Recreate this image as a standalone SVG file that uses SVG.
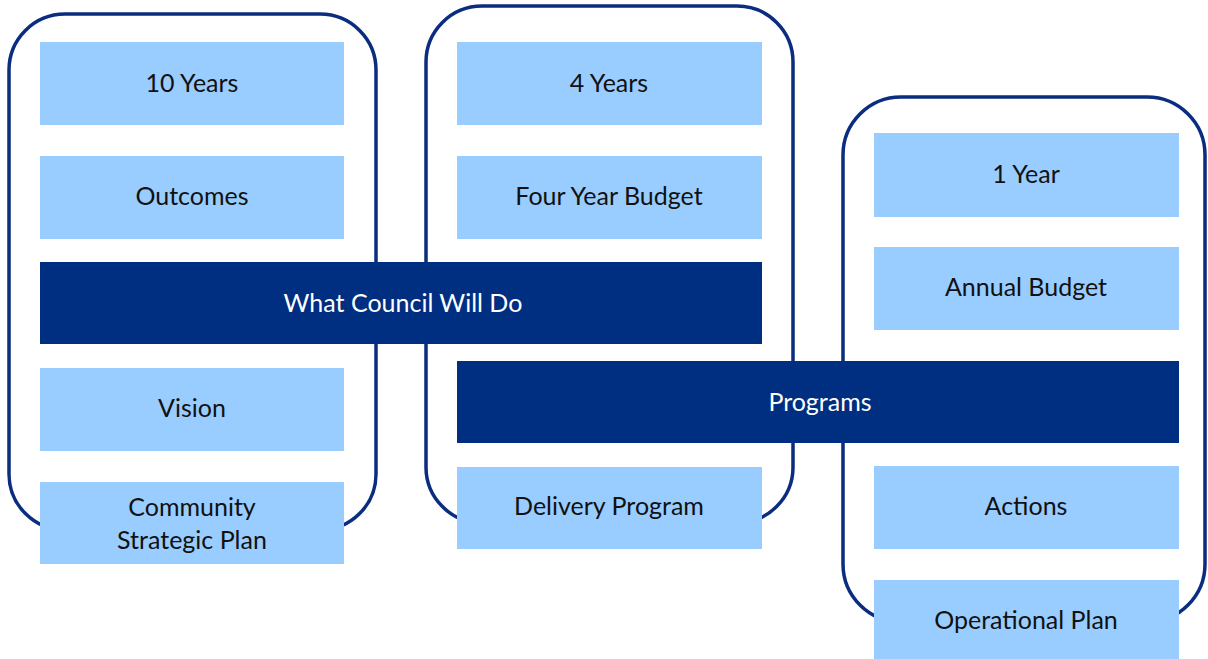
<svg xmlns="http://www.w3.org/2000/svg" width="1208" height="659" viewBox="0 0 1208 659">
<style>
.frame{fill:#ffffff;stroke:#0a2d7f;stroke-width:3.5}
.box{fill:#99ccff}
.bar{fill:#002e80}
.t{font-family:Lato,"Open Sans","Liberation Sans",sans-serif;font-size:25px;text-anchor:middle;fill:#111111}
.w{fill:#ffffff}
</style>
<rect width="1208" height="659" fill="#ffffff"/>
<g id="frames">
<rect id="frame-10" class="frame" x="9" y="14" width="367" height="516" rx="56"/>
<rect id="frame-4" class="frame" x="426" y="6" width="367" height="517" rx="56"/>
<rect id="frame-1" class="frame" x="843" y="97" width="362" height="525" rx="58"/>
</g>
<g id="n-10years"><rect class="box" x="40" y="42" width="304" height="83"/><text class="t" x="192" y="92">10 Years</text></g>
<g id="n-outcomes"><rect class="box" x="40" y="156" width="304" height="83"/><text class="t" x="192" y="205">Outcomes</text></g>
<g id="n-vision"><rect class="box" x="40" y="368" width="304" height="83"/><text class="t" x="192" y="417">Vision</text></g>
<g id="n-csp"><rect class="box" x="40" y="482" width="304" height="82"/><text class="t" x="192" y="516">Community</text><text class="t" x="192" y="549">Strategic Plan</text></g>
<g id="n-4years"><rect class="box" x="457" y="42" width="305" height="83"/><text class="t" x="609" y="92">4 Years</text></g>
<g id="n-fyb"><rect class="box" x="457" y="156" width="305" height="83"/><text class="t" x="609" y="205">Four Year Budget</text></g>
<g id="n-dp"><rect class="box" x="457" y="467" width="305" height="82"/><text class="t" x="609" y="515">Delivery Program</text></g>
<g id="n-1year"><rect class="box" x="874" y="133" width="305" height="84"/><text class="t" x="1026" y="183">1 Year</text></g>
<g id="n-ab"><rect class="box" x="874" y="247" width="305" height="83"/><text class="t" x="1026" y="296">Annual Budget</text></g>
<g id="n-actions"><rect class="box" x="874" y="466" width="305" height="83"/><text class="t" x="1026" y="515">Actions</text></g>
<g id="n-op"><rect class="box" x="874" y="580" width="305" height="82"/><text class="t" x="1026" y="629">Operational Plan</text></g>
<g id="n-wcwd"><rect class="bar" x="40" y="262" width="722" height="82"/><text class="t w" x="403" y="312">What Council Will Do</text></g>
<g id="n-programs"><rect class="bar" x="457" y="361" width="722" height="82"/><text class="t w" x="820" y="411">Programs</text></g>
<g id="connectors"></g>
</svg>
